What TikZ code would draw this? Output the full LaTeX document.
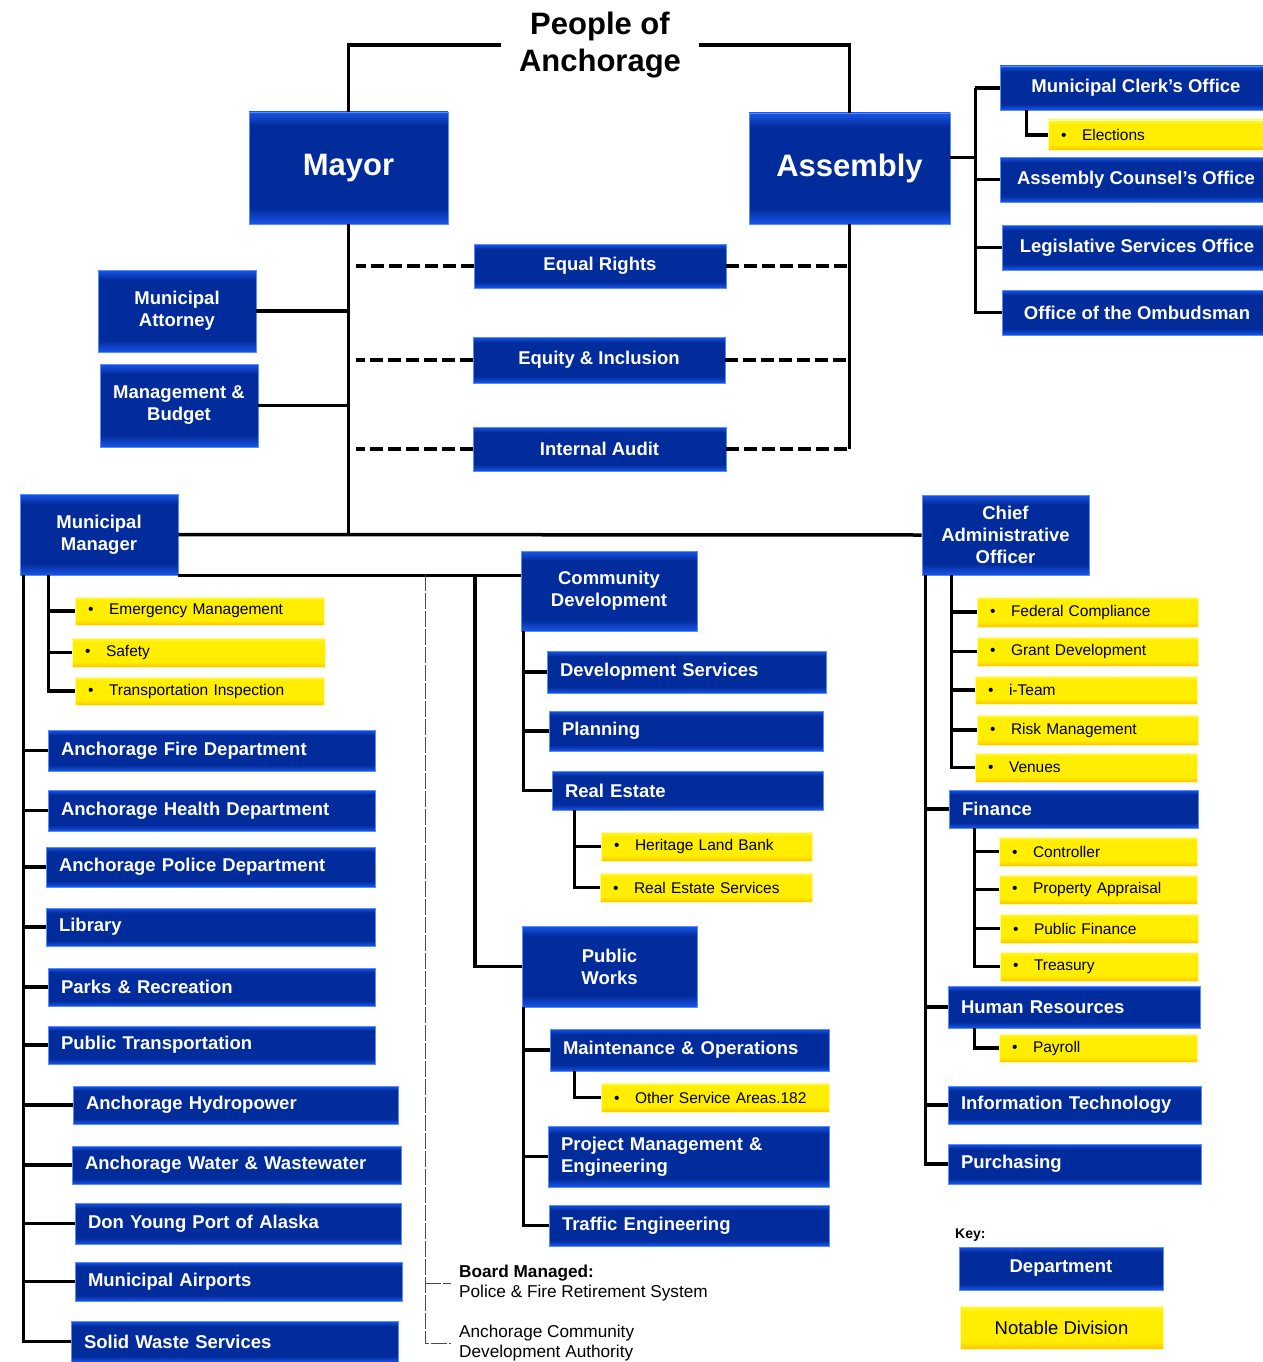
\documentclass[tikz,border=0pt]{standalone}
\usepackage{fontspec}
\setmainfont{Liberation Sans}
\definecolor{deptdark}{RGB}{2,44,156}
\definecolor{deptedge}{RGB}{25,85,230}
\definecolor{deptline}{RGB}{85,140,255}
\definecolor{notecore}{RGB}{255,238,0}
\definecolor{notetop}{RGB}{255,246,60}
\definecolor{noteedge}{RGB}{255,196,0}
\definecolor{noteline}{RGB}{255,250,160}
\pgfdeclareverticalshading{deptshade}{100bp}{color(0bp)=(deptedge); color(25bp)=(deptedge); color(32bp)=(deptdark); color(69bp)=(deptdark); color(75bp)=(deptedge); color(100bp)=(deptedge)}
\pgfdeclareverticalshading{noteshade}{100bp}{color(0bp)=(noteedge); color(25bp)=(noteedge); color(34bp)=(notecore); color(68bp)=(notecore); color(75bp)=(notetop); color(100bp)=(notetop)}
\begin{document}
\begin{tikzpicture}[x=1pt,y=-1pt,
   box/.style={shade,shading=deptshade,draw=deptline,line width=0.8pt,text=white,
     font=\fontsize{18.5}{22}\selectfont\bfseries,inner xsep=12pt,inner ysep=2pt},
   deptbox/.style 2 args={box,minimum width=#1,minimum height=#2,text width=#1-26,align=left},
   deptboxc/.style 2 args={box,minimum width=#1,minimum height=#2,align=center},
   tagbox/.style 2 args={shade,shading=noteshade,draw=noteline,line width=0.8pt,text=black,
     font=\fontsize{15.5}{18}\selectfont,inner xsep=12pt,inner ysep=2pt,
     minimum width=#1,minimum height=#2},
   divbox/.style 2 args={tagbox={#1}{#2},text width=#1-26,align=left,
     execute at begin node={\makebox[21pt][l]{\textbullet}}},
   link/.style={line width=3.5pt},
   dashlink/.style={line width=4pt,dash pattern=on 13pt off 5pt},
   boardlink/.style={draw=black!70,line width=0.8pt,dash pattern=on 16pt off 2pt},
   boardtext/.style={font=\fontsize{17.2}{20}\selectfont,align=left,anchor=west,inner sep=4pt}]
   \useasboundingbox (0,0) rectangle (1262,1362);
   % top of the chart
   \node [font=\fontsize{31}{37}\selectfont\bfseries,align=center,inner xsep=18pt,inner ysep=0pt] (people) at (600,45) {People of\\Anchorage};
   \node [deptboxc={199}{112},font=\fontsize{31}{37}\selectfont\bfseries] (mayor) at (348.5,168) {Mayor};
   \node [deptboxc={201}{111},font=\fontsize{31}{37}\selectfont\bfseries] (assembly) at (849.5,168.5) {Assembly};
   \draw [link] (mayor.north) |- (people.west);
   \draw [link] (assembly.north) |- (people.east);
   % offices between mayor and assembly
   \node [deptboxc={252}{44}] (equal) at (600,266) {Equal Rights};
   \node [deptboxc={252}{46}] (equity) at (599,360) {Equity \& Inclusion};
   \node [deptboxc={253}{44}] (audit) at (599.5,449) {Internal Audit};
   \node [deptboxc={158}{82}] (attorney) at (177,311) {Municipal\\Attorney};
   \node [deptboxc={158}{83}] (budget) at (179,405.5) {Management \&\\Budget};
   \node [deptboxc={158}{81}] (mm) at (99,534.5) {Municipal\\Manager};
   \node [deptboxc={167}{80}] (cao) at (1005.5,535) {Chief\\Administrative\\Officer};
   \draw [link] (mayor.south) -- (mayor.south |- mm.east);
   \draw [link] (assembly.south) -- (assembly.south |- audit.east);
   \draw [link] (mm.east) -- (cao.west);
   \draw [link] (attorney.east) -- (attorney.east -| mayor.south);
   \draw [link] (budget.east) -- (budget.east -| mayor.south);
   \foreach \x in {equal,equity,audit} {
     \draw [dashlink] (\x.west) -- ([xshift=7pt]mayor.south |- \x.west);
     \draw [dashlink] (\x.east) -- (assembly.south |- \x.east);
   }
   % assembly offices
   \node [deptboxc={272}{44}] (clerk) at (1136,88) {Municipal Clerk's Office};
   \node [divbox={224}{30}] (elections) at (1160,135) {Elections};
   \node [deptboxc={272}{45}] (counsel) at (1136,179.5) {Assembly Counsel's Office};
   \node [deptboxc={270}{45}] (legis) at (1137,247.5) {Legislative Services Office};
   \node [deptboxc={270}{45}] (ombuds) at (1137,312.5) {Office of the Ombudsman};
   \coordinate (asmbus) at ([xshift=25pt,yshift=11pt]assembly.east);
   \draw [link] ([yshift=11pt]assembly.east) -- (asmbus);
   \draw [link] (asmbus |- clerk.west) |- (ombuds.west);
   \foreach \x in {clerk,counsel,legis} \draw [link] (asmbus |- \x.west) -- (\x.west);
   \draw [link] ([xshift=27pt]clerk.south west) |- (elections.west);
   % municipal manager
   \node [divbox={249}{28}] (em) at (199.5,611) {Emergency Management};
   \node [divbox={253}{29}] (safety) at (198.5,652.5) {Safety};
   \node [divbox={249}{28}] (ti) at (199.5,691) {Transportation Inspection};
   \node [deptbox={327}{41}] (fire) at (211.5,750.5) {Anchorage Fire Department};
   \node [deptbox={327}{41}] (health) at (211.5,810.5) {Anchorage Health Department};
   \node [deptbox={329}{40}] (police) at (210.5,867) {Anchorage Police Department};
   \node [deptbox={329}{38}] (library) at (210.5,927) {Library};
   \node [deptbox={327}{38}] (parks) at (211.5,987) {Parks \& Recreation};
   \node [deptbox={327}{38}] (transit) at (211.5,1045) {Public Transportation};
   \node [deptbox={325}{38}] (hydro) at (235.5,1105) {Anchorage Hydropower};
   \node [deptbox={329}{38}] (water) at (236.5,1165) {Anchorage Water \& Wastewater};
   \node [deptbox={326}{41}] (port) at (238,1223.5) {Don Young Port of Alaska};
   \node [deptbox={327}{39}] (airports) at (238.5,1281.5) {Municipal Airports};
   \node [deptbox={327}{41}] (waste) at (234.5,1341.5) {Solid Waste Services};
   \coordinate (mmbus) at ([xshift=4pt]mm.south west);
   \coordinate (mmtag) at ([xshift=29pt]mm.south west);
   \draw [link] (mmbus) |- (waste.west);
   \foreach \x in {fire,health,police,library,parks,transit,hydro,water,port,airports}
     \draw [link] (mmbus |- \x.west) -- (\x.west);
   \draw [link] (mmtag) |- (ti.west);
   \foreach \x in {em,safety} \draw [link] (mmtag |- \x.west) -- (\x.west);
   % community development and public works
   \node [deptboxc={176}{80}] (cd) at (609,591) {Community\\Development};
   \node [deptboxc={175}{81}] (pw) at (609.5,966.5) {Public\\Works};
   \coordinate (cdbus) at (475,575);
   \draw [link] (mm.south east) -- (mm.south east -| cd.west);
   \draw [link] (cdbus) |- (pw.west);
   \node [deptbox={279}{42}] (devsvc) at (686.5,672) {Development Services};
   \node [deptbox={274}{40}] (planning) at (686,731) {Planning};
   \node [deptbox={271}{39}] (realest) at (687.5,790.5) {Real Estate};
   \node [divbox={211}{29}] (hlb) at (706.5,846.5) {Heritage Land Bank};
   \node [divbox={212}{29}] (ressvc) at (706,887.5) {Real Estate Services};
   \coordinate (cdkid) at ([xshift=3pt]cd.south west);
   \draw [link] (cdkid) |- (realest.west);
   \foreach \x in {devsvc,planning} \draw [link] (cdkid |- \x.west) -- (\x.west);
   \coordinate (rekid) at ([xshift=23pt]realest.south west);
   \draw [link] (rekid) |- (ressvc.west);
   \draw [link] (rekid |- hlb.west) -- (hlb.west);
   \node [deptbox={279}{42}] (mo) at (689.5,1050) {Maintenance \& Operations};
   \node [divbox={228}{29}] (osa) at (715,1097.5) {Other Service Areas.182};
   \node [deptbox={281}{61}] (pme) at (688.5,1156.5) {Project Management \&\\Engineering};
   \node [deptbox={280}{41}] (traffic) at (689,1225.5) {Traffic Engineering};
   \coordinate (pwkid) at ([xshift=2pt]pw.south west);
   \draw [link] (pwkid) |- (traffic.west);
   \foreach \x in {mo,pme} \draw [link] (pwkid |- \x.west) -- (\x.west);
   \draw [link] ([xshift=25pt]mo.south west) |- (osa.west);
   % board managed
   \node [boardtext] (pfrs) at (455,1283) {\textbf{Board Managed:}\\Police \& Fire Retirement System};
   \node [boardtext] (acda) at (455,1343) {Anchorage Community\\Development Authority};
   \coordinate (board) at (425,575);
   \draw [boardlink] (board) |- ([xshift=-4pt]acda.west);
   \draw [boardlink] (board |- pfrs.west) -- ([xshift=-4pt]pfrs.west);
   % chief administrative officer
   \node [divbox={221}{30}] (fedcomp) at (1087.5,612) {Federal Compliance};
   \node [divbox={221}{29}] (grant) at (1087.5,651.5) {Grant Development};
   \node [divbox={222}{28}] (iteam) at (1086,690) {i-Team};
   \node [divbox={221}{30}] (risk) at (1087.5,730) {Risk Management};
   \node [divbox={222}{29}] (venues) at (1086,767.5) {Venues};
   \node [deptbox={249}{38}] (finance) at (1073.5,809) {Finance};
   \node [divbox={198}{29}] (controller) at (1098,851.5) {Controller};
   \node [divbox={198}{29}] (appraisal) at (1098,889.5) {Property Appraisal};
   \node [divbox={198}{29}] (pubfin) at (1099,928.5) {Public Finance};
   \node [divbox={198}{29}] (treasury) at (1099,966.5) {Treasury};
   \node [deptbox={252}{42}] (hr) at (1074,1007) {Human Resources};
   \node [divbox={198}{28}] (payroll) at (1098,1048) {Payroll};
   \node [deptbox={253}{38}] (it) at (1074.5,1105) {Information Technology};
   \node [deptbox={253}{40}] (purch) at (1074.5,1164) {Purchasing};
   \coordinate (caobus) at ([xshift=4pt]cao.south west);
   \coordinate (caotag) at ([xshift=30pt]cao.south west);
   \draw [link] (caobus) |- (purch.west);
   \foreach \x in {finance,hr,it} \draw [link] (caobus |- \x.west) -- (\x.west);
   \draw [link] (caotag) |- (venues.west);
   \foreach \x in {fedcomp,grant,iteam,risk} \draw [link] (caotag |- \x.west) -- (\x.west);
   \coordinate (finkid) at ([xshift=26pt]finance.south west);
   \draw [link] (finkid) |- (treasury.west);
   \foreach \x in {controller,appraisal,pubfin} \draw [link] (finkid |- \x.west) -- (\x.west);
   \draw [link] ([xshift=27pt]hr.south west) |- (payroll.west);
   % key
   \node [font=\fontsize{14}{16}\selectfont\bfseries,anchor=west,inner sep=0pt] (keylbl) at (955,1235) {Key:};
   \node [deptboxc={204}{43}] (keydept) at (1061,1268.5) {Department};
   \node [tagbox={203}{43},font=\fontsize{18.5}{22}\selectfont] (keydiv) at (1061.5,1327.5) {Notable Division};
\end{tikzpicture}
\end{document}
